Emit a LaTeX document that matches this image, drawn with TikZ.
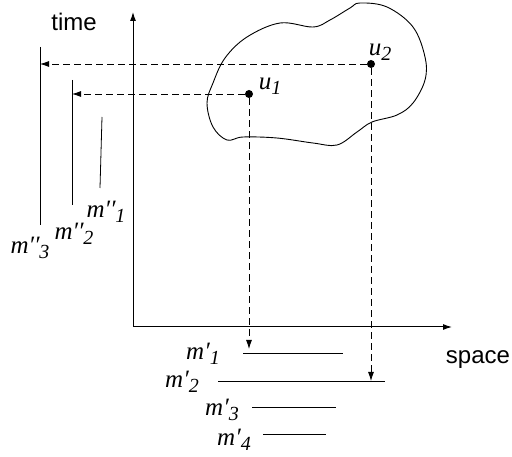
\documentclass[tikz,border=0pt]{standalone}
\usepackage{fontspec}
\setmainfont{Liberation Serif}
\setsansfont{Liberation Sans}
\usetikzlibrary{arrows.meta}
\tikzset{
  sketch/.style={x=1pt,y=-1pt,line width=0.8pt,>={Latex[length=9pt,width=6pt]}},
  axis/.style={->,line width=1pt},
  proj/.style={->,dash pattern=on 7pt off 4pt},
  seg/.style={line width=0.8pt},
  word/.style={font=\sffamily\fontsize{24}{28}\selectfont},
  sym/.style={font=\itshape\fontsize{25}{28}\selectfont,inner sep=0pt},
  dot/.style={circle,fill,inner sep=0pt,minimum size=8pt},
}
\newcommand{\msub}[2]{#1\raisebox{-0.4ex}{\fontsize{20}{22}\selectfont #2}}

\begin{document}
\begin{tikzpicture}[sketch]
\useasboundingbox (0,0) rectangle (512,457);
% axes
\coordinate (O) at (133,327);
\draw[axis] (O) -- (133,12) coordinate (T);
\draw[axis] (O) -- (452,327) coordinate (S);
\node[word] (time) at (74,22) {time};
\node[word] (space) at (478,360) {space};
% region
\draw[line width=0.9pt] plot[smooth cycle,tension=0.6] coordinates {
  (360,3) (387,7) (413,27) (425,57) (425,80) (413,103) (397,115) (372,122)
  (357,132) (337,145) (313,143) (277,138) (243,137) (227,140) (213,127)
  (207,103) (213,83) (225,58) (247,37) (280,23) (313,27) (330,20) (350,8)};
\node[dot] (u1) at (249,94) {};
\node[dot] (u2) at (371,64) {};
\node[sym] (lu1) at (270,86) {\msub{u}{1}};
\node[sym] (lu2) at (380,52) {\msub{u}{2}};
% time segments
\draw[seg] (40,47) coordinate (a3) -- (40,225);
\draw[seg] (72,80) coordinate (a2) -- (72,205);
\draw[seg] (102,117) coordinate (a1) -- (100,188);
\node[sym] (mt1) at (106,212) {\msub{m′′}{1}};
\node[sym] (mt2) at (74,234) {\msub{m′′}{2}};
\node[sym] (mt3) at (30,248) {\msub{m′′}{3}};
% space segments
\draw[seg] (243,353) coordinate (b1) -- (343,353);
\draw[seg] (218,381) coordinate (b2) -- (385,381);
\draw[seg] (252,407) coordinate (b3) -- (336,407);
\draw[seg] (263,434) coordinate (b4) -- (326,434);
\node[sym] (ms1) at (203,354) {\msub{m′}{1}};
\node[sym] (ms2) at (182,382) {\msub{m′}{2}};
\node[sym] (ms3) at (222,410) {\msub{m′}{3}};
\node[sym] (ms4) at (234,440) {\msub{m′}{4}};
% projections
\draw[proj] (u2) -- (u2 -| a3);
\draw[proj] (u1) -- (u1 -| a2);
\draw[proj,shorten >=4pt] (u1) -- (u1 |- b1);
\draw[proj] (u2) -- (u2 |- b2);
\end{tikzpicture}
\end{document}
